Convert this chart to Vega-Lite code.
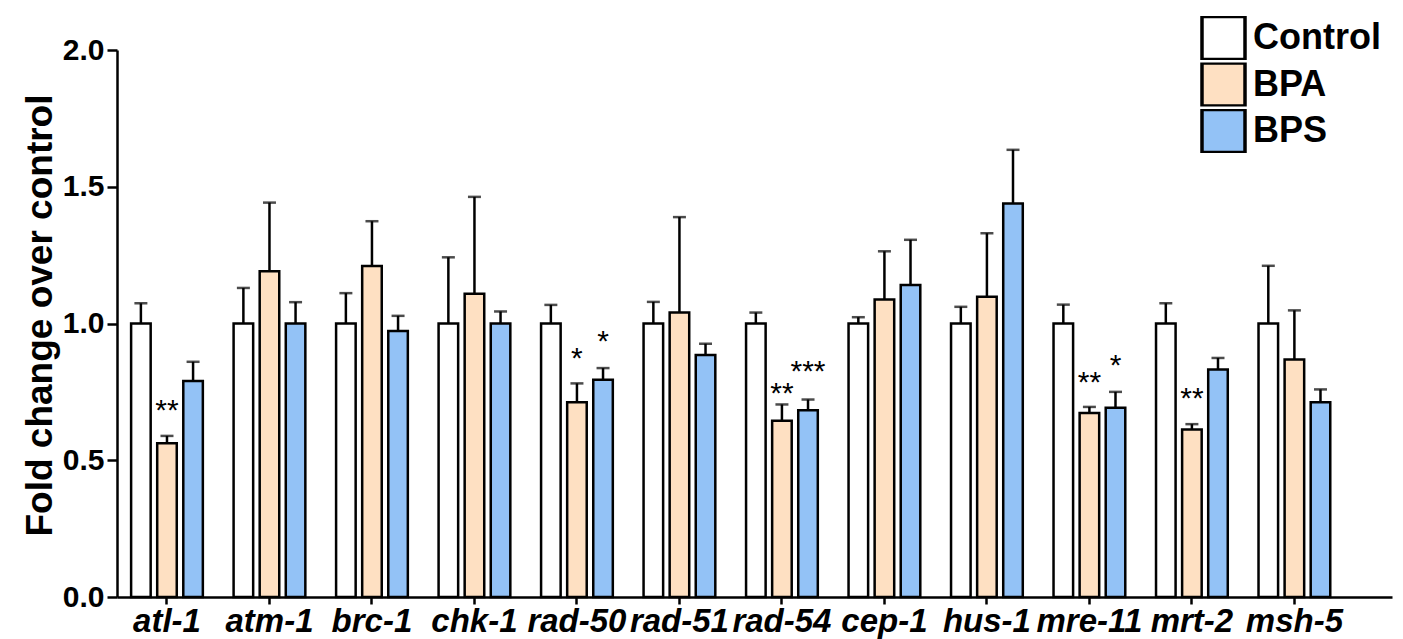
{
  "$schema": "https://vega.github.io/schema/vega-lite/v6.json",
  "autosize": "none",
  "width": 1275,
  "height": 547,
  "padding": {"left": 117, "top": 50, "right": 11, "bottom": 42},
  "background": "white",
  "config": {
    "view": {"stroke": null},
    "font": "Liberation Sans"
  },
  "data": {
    "values": [
      {"gene": "atl-1", "group": "Control", "mean": 1.0, "err": 1.074, "sig": "", "sy": null},
      {"gene": "atl-1", "group": "BPA", "mean": 0.562, "err": 0.589, "sig": "**", "sy": 0.71},
      {"gene": "atl-1", "group": "BPS", "mean": 0.79, "err": 0.86, "sig": "", "sy": null},
      {"gene": "atm-1", "group": "Control", "mean": 1.0, "err": 1.13, "sig": "", "sy": null},
      {"gene": "atm-1", "group": "BPA", "mean": 1.191, "err": 1.442, "sig": "", "sy": null},
      {"gene": "atm-1", "group": "BPS", "mean": 1.0, "err": 1.078, "sig": "", "sy": null},
      {"gene": "brc-1", "group": "Control", "mean": 1.0, "err": 1.111, "sig": "", "sy": null},
      {"gene": "brc-1", "group": "BPA", "mean": 1.21, "err": 1.374, "sig": "", "sy": null},
      {"gene": "brc-1", "group": "BPS", "mean": 0.973, "err": 1.028, "sig": "", "sy": null},
      {"gene": "chk-1", "group": "Control", "mean": 1.0, "err": 1.242, "sig": "", "sy": null},
      {"gene": "chk-1", "group": "BPA", "mean": 1.109, "err": 1.463, "sig": "", "sy": null},
      {"gene": "chk-1", "group": "BPS", "mean": 1.0, "err": 1.044, "sig": "", "sy": null},
      {"gene": "rad-50", "group": "Control", "mean": 1.0, "err": 1.068, "sig": "", "sy": null},
      {"gene": "rad-50", "group": "BPA", "mean": 0.712, "err": 0.781, "sig": "*", "sy": 0.9},
      {"gene": "rad-50", "group": "BPS", "mean": 0.794, "err": 0.837, "sig": "*", "sy": 0.963},
      {"gene": "rad-51", "group": "Control", "mean": 1.0, "err": 1.079, "sig": "", "sy": null},
      {"gene": "rad-51", "group": "BPA", "mean": 1.04, "err": 1.389, "sig": "", "sy": null},
      {"gene": "rad-51", "group": "BPS", "mean": 0.885, "err": 0.926, "sig": "", "sy": null},
      {"gene": "rad-54", "group": "Control", "mean": 1.0, "err": 1.04, "sig": "", "sy": null},
      {"gene": "rad-54", "group": "BPA", "mean": 0.644, "err": 0.704, "sig": "**", "sy": 0.771},
      {"gene": "rad-54", "group": "BPS", "mean": 0.683, "err": 0.722, "sig": "***", "sy": 0.851},
      {"gene": "cep-1", "group": "Control", "mean": 1.0, "err": 1.023, "sig": "", "sy": null},
      {"gene": "cep-1", "group": "BPA", "mean": 1.088, "err": 1.264, "sig": "", "sy": null},
      {"gene": "cep-1", "group": "BPS", "mean": 1.141, "err": 1.306, "sig": "", "sy": null},
      {"gene": "hus-1", "group": "Control", "mean": 1.0, "err": 1.061, "sig": "", "sy": null},
      {"gene": "hus-1", "group": "BPA", "mean": 1.098, "err": 1.33, "sig": "", "sy": null},
      {"gene": "hus-1", "group": "BPS", "mean": 1.439, "err": 1.635, "sig": "", "sy": null},
      {"gene": "mre-11", "group": "Control", "mean": 1.0, "err": 1.069, "sig": "", "sy": null},
      {"gene": "mre-11", "group": "BPA", "mean": 0.673, "err": 0.695, "sig": "**", "sy": 0.811},
      {"gene": "mre-11", "group": "BPS", "mean": 0.692, "err": 0.75, "sig": "*", "sy": 0.874},
      {"gene": "mrt-2", "group": "Control", "mean": 1.0, "err": 1.074, "sig": "", "sy": null},
      {"gene": "mrt-2", "group": "BPA", "mean": 0.612, "err": 0.632, "sig": "**", "sy": 0.753},
      {"gene": "mrt-2", "group": "BPS", "mean": 0.832, "err": 0.874, "sig": "", "sy": null},
      {"gene": "msh-5", "group": "Control", "mean": 1.0, "err": 1.211, "sig": "", "sy": null},
      {"gene": "msh-5", "group": "BPA", "mean": 0.868, "err": 1.048, "sig": "", "sy": null},
      {"gene": "msh-5", "group": "BPS", "mean": 0.712, "err": 0.759, "sig": "", "sy": null}
    ]
  },
  "encoding": {
    "x": {
      "field": "gene",
      "type": "nominal",
      "sort": null,
      "scale": {"paddingInner": 0.3, "paddingOuter": 0.37, "align": 0.186},
      "axis": {
        "title": null,
        "labelAngle": 0,
        "labelFontSize": 33,
        "labelFontWeight": "bold",
        "labelFontStyle": "italic",
        "labelColor": "black",
        "labelPadding": 1,
        "labelOverlap": false,
        "labelBound": false,
        "labelFlush": false,
        "domainColor": "black",
        "domainWidth": 2.5,
        "tickColor": "black",
        "tickWidth": 2.5,
        "tickSize": 7
      }
    },
    "xOffset": {
      "field": "group",
      "type": "nominal",
      "sort": ["Control", "BPA", "BPS"],
      "scale": {"domain": ["Control", "BPA", "BPS"], "paddingInner": 0.25, "paddingOuter": 0}
    }
  },
  "layer": [
    {
      "mark": {"type": "bar", "stroke": "black", "strokeWidth": 2.5},
      "encoding": {
        "y": {
          "field": "mean",
          "type": "quantitative",
          "scale": {"domain": [0, 2], "nice": false},
          "axis": {
            "title": "Fold change over control",
            "titleFontSize": 37,
            "titleFontWeight": "bold",
            "titleColor": "black",
            "titlePadding": 3,
            "titleY": 265,
            "values": [0, 0.5, 1, 1.5, 2],
            "format": ".1f",
            "grid": false,
            "labelFontSize": 30,
            "labelFontWeight": "bold",
            "labelColor": "black",
            "labelPadding": 3,
            "domainColor": "black",
            "domainWidth": 2.5,
            "tickColor": "black",
            "tickWidth": 2.5,
            "tickSize": 10
          }
        },
        "fill": {
          "field": "group",
          "type": "nominal",
          "scale": {"domain": ["Control", "BPA", "BPS"], "range": ["#ffffff", "#fee0c2", "#93c2f6"]},
          "legend": {
            "title": null,
            "orient": "none",
            "legendX": 1083,
            "legendY": -34,
            "direction": "vertical",
            "padding": 0,
            "symbolType": "square",
            "symbolSize": 1850,
            "symbolStrokeColor": "black",
            "symbolStrokeWidth": 3.5,
            "symbolOpacity": 1,
            "labelFontSize": 36,
            "labelFontWeight": "bold",
            "labelColor": "black",
            "labelOffset": 6,
            "clipHeight": 44,
            "rowPadding": 2.5
          }
        }
      }
    },
    {
      "mark": {"type": "rule", "color": "black", "strokeWidth": 2.5},
      "encoding": {
        "y": {"field": "mean", "type": "quantitative"},
        "y2": {"field": "err"}
      }
    },
    {
      "mark": {"type": "tick", "color": "black", "size": 13, "thickness": 2.5, "orient": "horizontal"},
      "encoding": {
        "y": {"field": "err", "type": "quantitative"}
      }
    },
    {
      "transform": [{"filter": "datum.sig != ''"}],
      "mark": {"type": "text", "fontSize": 30, "color": "black", "baseline": "alphabetic", "dy": 17},
      "encoding": {
        "y": {"field": "sy", "type": "quantitative"},
        "text": {"field": "sig"}
      }
    }
  ]
}
